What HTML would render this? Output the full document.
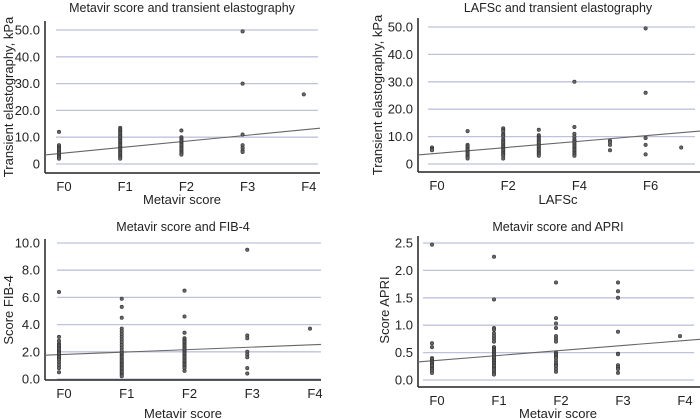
<!DOCTYPE html>
<html><head><meta charset="utf-8"><style>
html,body{margin:0;padding:0;background:#fff;}
svg{display:block;font-family:"Liberation Sans",Arial,sans-serif;}
</style></head><body>
<svg id="c" width="700" height="419" viewBox="0 0 700 419"></svg>
<script>
// Panel A: Metavir vs TE
const catsA = ["F0","F1","F2","F3","F4"];
const valsA = [
 [12,7,6.5,6,5.5,5,4.5,4,3.5,3,2.5,2],
 [13.5,13,12.5,12,11.5,11,10.5,10,9.5,9,8.5,8,7.5,7,6.5,6,5.5,5,4.5,4,3.5,3,2.5,2],
 [12.5,10,9.5,9,8.5,8,7.5,7,6.5,6,5.5,5,4.5,4,3.5],
 [49.5,30,11,7,6,5,4.5],
 [26]];
const ticksA = [0,10,20,30,40,50];
const tickLabA = ["0","10.0","20.0","30.0","40.0","50.0"];
const regA = [3.9,2.22];
// Panel B: LAFSc vs TE
const catsB = ["F0","","F2","","F4","","F6",""];
const valsB = [
 [6,5.5,5],
 [12,7,6.5,6,5.5,5,4.5,4,3.5,3,2.5,2],
 [13,12.5,12,11,10.5,10,9,8.5,8,7.5,7,6.5,6,5.5,5,4.5,4,3.5,3,2],
 [12.5,10.5,10,9.5,9,8.5,8,7.5,7,6.5,6,5.5,5,4.5,4,3.5,3],
 [30,13.5,11,10,9,8.5,8,7.5,7,6.5,6,5.5,5,4.5,4,3.5,3],
 [8.5,8,7,5],
 [49.5,26,9.5,7,3.5],
 [6]];
const ticksB = [0,10,20,30,40,50];
const tickLabB = ["0","10.0","20.0","30.0","40.0","50.0"];
const regB = [3.73,1.1];
// Panel C: Metavir vs FIB-4
const catsC = ["F0","F1","F2","F3","F4"];
const valsC = [
 [6.4,3.1,2.8,2.6,2.5,2.4,2.3,2.2,2.1,2.0,1.9,1.8,1.7,1.6,1.5,1.4,1.2,1.0,0.8,0.5],
 [5.9,5.3,4.5,3.7,3.5,3.3,3.1,2.9,2.7,2.5,2.3,2.1,1.9,1.8,1.7,1.6,1.5,1.4,1.3,1.2,1.1,1.0,0.9,0.8,0.7,0.6,0.5,0.4,0.3,0.2],
 [6.5,4.6,3.4,3.0,2.9,2.8,2.7,2.6,2.5,2.4,2.3,2.2,2.1,2.0,1.9,1.8,1.7,1.6,1.5,1.4,1.3,1.2,1.1,1.0,0.9,0.8,0.6],
 [9.5,3.2,3.0,2.0,1.8,1.6,0.8,0.4],
 [3.7]];
const ticksC = [0,2,4,6,8,10];
const tickLabC = ["0.0","2.0","4.0","6.0","8.0","10.0"];
const regC = [1.79,0.18];
// Panel D: Metavir vs APRI
const catsD = ["F0","F1","F2","F3","F4"];
const valsD = [
 [2.47,0.67,0.6,0.4,0.38,0.35,0.33,0.3,0.28,0.25,0.22,0.2,0.17,0.13],
 [2.25,1.47,0.95,0.92,0.85,0.8,0.75,0.7,0.6,0.57,0.55,0.52,0.5,0.47,0.45,0.42,0.4,0.37,0.35,0.32,0.3,0.27,0.25,0.22,0.2,0.17,0.13,0.1],
 [1.78,1.13,1.03,0.95,0.8,0.75,0.7,0.5,0.47,0.45,0.42,0.4,0.35,0.3,0.27,0.25,0.2,0.15],
 [1.78,1.62,1.5,0.88,0.48,0.47,0.27,0.23,0.2,0.13],
 [0.8]];
const ticksD = [0,0.5,1,1.5,2,2.5];
const tickLabD = ["0.0","0.5","1.0","1.5","2.0","2.5"];
const regD = [0.35,0.091];

const svg = document.getElementById('c');
const NS = "http://www.w3.org/2000/svg";
function mk(tag, attrs, parent){
  const e = document.createElementNS(NS, tag);
  for (const k in attrs) e.setAttribute(k, attrs[k]);
  (parent||svg).appendChild(e); return e;
}
function panel(p){
  const g = mk('g', {});
  
  
  const sx = i => p.x0 + i * p.step;
  const sy = v => p.yb - (v - p.vmin) / (p.vmax - p.vmin) * (p.yb - p.yt);
  // gridlines
  p.ticks.forEach((t, k) => {
    const l = mk('line', {x1:p.gx1, x2:p.gx2, y1:sy(t), y2:sy(t), stroke:'#bfc2dc', 'stroke-width':1.3}, g);
    
    
    const tx = mk('text', {x:p.ax-5, y:sy(t)+4.5, 'text-anchor':'end', 'font-size':13, fill:'#222'}, g);
    tx.textContent = p.tickLab[k];
    
    
  });
  // axes
  const ya = mk('line', {x1:p.ax, x2:p.ax, y1:p.at, y2:p.ab, stroke:'#222', 'stroke-width':1.5}, g);
  
  
  const xa = mk('line', {x1:p.ax, x2:p.ar, y1:p.ab, y2:p.ab, stroke:'#222', 'stroke-width':1.5}, g);
  
  
  // category labels
  p.cats.forEach((c, i) => {
    if (!c) return;
    const t = mk('text', {x:sx(i)+5, y:p.ab+18, 'text-anchor':'middle', 'font-size':13, fill:'#222'}, g);
    t.textContent = c;
    
    
  });
  // regression line
  const ix1 = (p.ax - p.x0) / p.step, ix2 = (p.ar - p.x0) / p.step;
  const rl = mk('line', {x1:p.ax, x2:p.ar, y1:sy(p.reg[0] + p.reg[1]*ix1), y2:sy(p.reg[0] + p.reg[1]*ix2), stroke:'#666', 'stroke-width':1.1}, g);
  
  
  // points
  p.vals.forEach((arr, i) => arr.forEach(v => {
    const c = mk('circle', {cx:sx(i), cy:sy(v), r:1.7, fill:'#666', stroke:'#333', 'stroke-width':0.6}, g);
    
    
  }));
  // titles
  const ti = mk('text', {x:p.tcx, y:p.ty, 'text-anchor':'middle', 'font-size':12.5, fill:'#222'}, g);
  ti.textContent = p.title;
  
  
  const xt = mk('text', {x:p.tcx, y:p.xly, 'text-anchor':'middle', 'font-size':13, fill:'#222'}, g);
  xt.textContent = p.xlab;
  
  
  const yt = mk('text', {x:0, y:0, 'text-anchor':'middle', 'font-size':13, fill:'#222', transform:`translate(${p.ylx},${p.ylc}) rotate(-90)`}, g);
  yt.textContent = p.ylab;
  
  
}
panel({name:'panel-metavir-te', cats:catsA, vals:valsA, ticks:ticksA, tickLab:tickLabA, reg:regA,
  x0:59, step:61.2, vmin:0, vmax:50, yb:164, yt:30, gx1:56, gx2:318, ax:45, at:21, ab:173, ar:320,
  title:'Metavir score and transient elastography', tcx:182, ty:12, xlab:'Metavir score', xly:204, ylab:'Transient elastography, kPa', ylx:13, ylc:97});
panel({name:'panel-lafsc-te', cats:catsB, vals:valsB, ticks:ticksB, tickLab:tickLabB, reg:regB,
  x0:432, step:35.6, vmin:0, vmax:50, yb:164, yt:27, gx1:428, gx2:695, ax:418, at:18, ab:172, ar:700,
  title:'LAFSc and transient elastography', tcx:558, ty:12, xlab:'LAFSc', xly:204, ylab:'Transient elastography, kPa', ylx:382, ylc:95});
panel({name:'panel-metavir-fib4', cats:catsC, vals:valsC, ticks:ticksC, tickLab:tickLabC, reg:regC,
  x0:59, step:62.75, vmin:0, vmax:10, yb:379, yt:243, gx1:57, gx2:321, ax:45, at:239, ab:380, ar:321,
  title:'Metavir score and FIB-4', tcx:183, ty:231, xlab:'Metavir score', xly:418, ylab:'Score FIB-4', ylx:13, ylc:310});
panel({name:'panel-metavir-apri', cats:catsD, vals:valsD, ticks:ticksD, tickLab:tickLabD, reg:regD,
  x0:432, step:62, vmin:0, vmax:2.5, yb:380, yt:243, gx1:423, gx2:694, ax:418, at:236, ab:387, ar:700,
  title:'Metavir score and APRI', tcx:558, ty:231, xlab:'Metavir score', xly:418, ylab:'Score APRI', ylx:389, ylc:310});
</script>
</body></html>
